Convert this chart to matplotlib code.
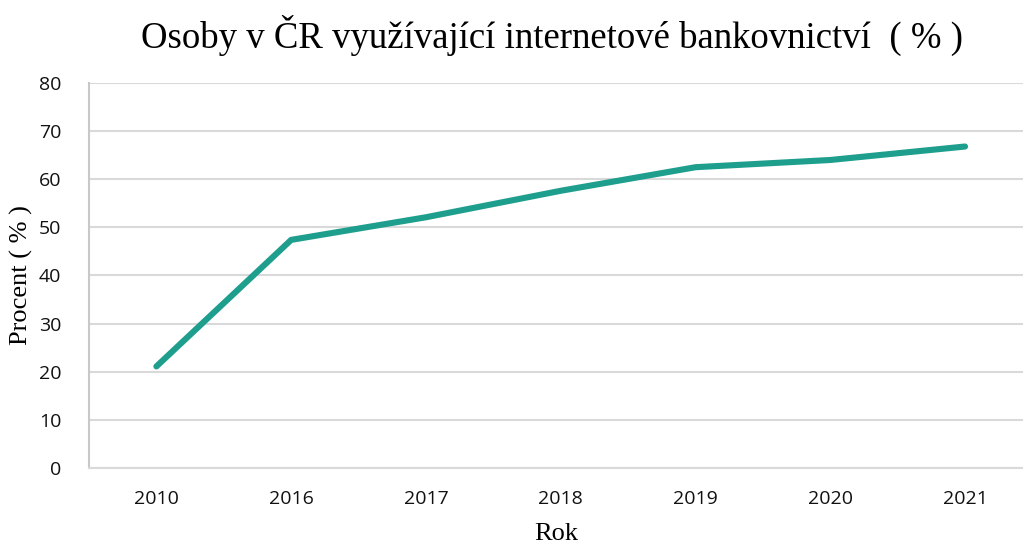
import matplotlib
matplotlib.use("Agg")
import matplotlib.pyplot as plt

years = ["2010", "2016", "2017", "2018", "2019", "2020", "2021"]
values = [21.1, 47.4, 52.1, 57.6, 62.5, 64.0, 66.8]
y_ticks = [0, 10, 20, 30, 40, 50, 60, 70, 80]

fig = plt.figure(figsize=(10.23, 5.46), dpi=100)
ax = fig.add_axes([0.087, 0.1429, 0.913, 0.7051])

x = list(range(len(years)))
ax.plot(x, values, color="#1e9e8d", linewidth=4.4, solid_capstyle="round", zorder=3)

ax.set_xlim(-0.5, 6.43)
ax.set_ylim(0, 80)
ax.set_yticks(y_ticks)
ax.set_xticks(x)
ax.set_xticklabels(years)
ax.grid(axis="y", color="#d9d9d9", linewidth=1.5)
ax.set_axisbelow(True)

for side in ["top", "right"]:
    ax.spines[side].set_visible(False)
ax.spines["left"].set_color("#c8c8c8")
ax.spines["left"].set_linewidth(1.5)
ax.spines["bottom"].set_color("#d9d9d9")
ax.spines["bottom"].set_linewidth(1.5)
ax.tick_params(length=0, labelsize=14, colors="#111111")
ax.tick_params(axis="y", pad=20)
ax.tick_params(axis="x", pad=16)
for lab in ax.get_xticklabels() + ax.get_yticklabels():
    lab.set_family("Open Sans")

fig.text(0.54, 0.935, "Osoby v ČR využívající internetové bankovnictví  ( % )",
         ha="center", va="center", fontsize=26.5, family="Liberation Serif")
ax.set_ylabel("Procent ( % )", fontsize=19, family="Liberation Serif", labelpad=4)
ax.set_xlabel("Rok", fontsize=19, family="Liberation Serif", labelpad=11)

fig.savefig("out.png", dpi=100)
